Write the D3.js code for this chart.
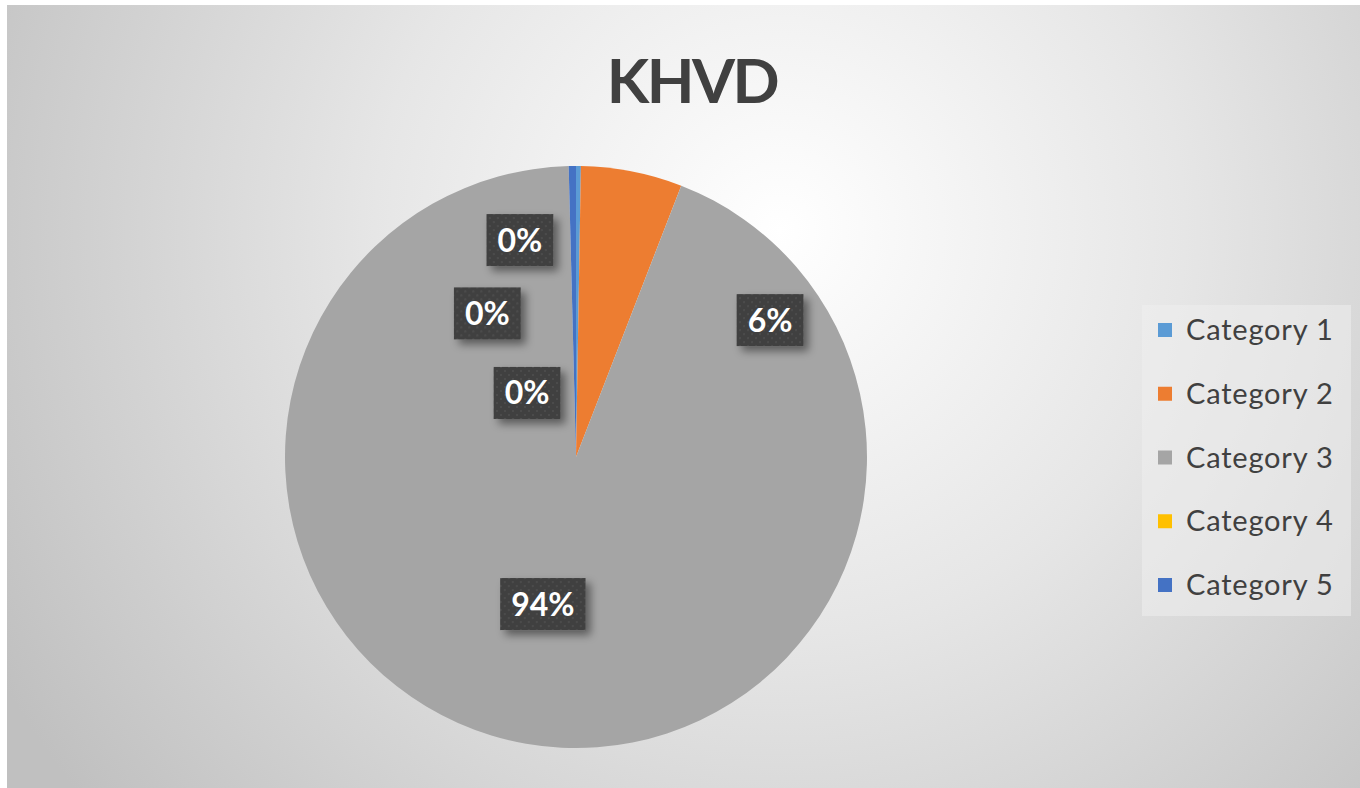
<!DOCTYPE html>
<html><head><meta charset="utf-8">
<script src="https://cdn.jsdelivr.net/npm/d3@7"></script>
<style>html,body{margin:0;padding:0;background:#fff;}svg{display:block;}</style>
</head><body>
<script>
const title = "KHVD";
const categories = ["Category 1","Category 2","Category 3","Category 4","Category 5"];
const values = [2, 42, 700, 0, 3];
const colors = ["#5b9bd5","#ed7d31","#a5a5a5","#ffc000","#4472c4"];
// label placement (angle in degrees clockwise from top, distance as fraction of radius)
const labelAngles = [345.5, 54.8, 192.7, 328.3, 322.6];
const labelDist = [0.77, 0.816, 0.518, 0.58, 0.277];

const W = 1360, H = 788;
const svg = d3.select("body").append("svg").attr("width", W).attr("height", H);
const defs = svg.append("defs");

const bg = defs.append("radialGradient").attr("id","bg")
  .attr("gradientUnits","userSpaceOnUse").attr("cx",780).attr("cy",230).attr("r",900);
bg.append("stop").attr("offset","0%").attr("stop-color","#ffffff");
bg.append("stop").attr("offset","45%").attr("stop-color","#e6e6e6");
bg.append("stop").attr("offset","100%").attr("stop-color","#c0c0c0");

const pat = defs.append("pattern").attr("id","dots").attr("patternUnits","userSpaceOnUse")
  .attr("width",8).attr("height",8);
pat.append("rect").attr("width",8).attr("height",8).attr("fill","#3f3f3f");
pat.append("circle").attr("cx",2).attr("cy",2).attr("r",1.3).attr("fill","#4c4c4c");
pat.append("circle").attr("cx",6).attr("cy",6).attr("r",1.3).attr("fill","#4c4c4c");

const sh = defs.append("filter").attr("id","shadow").attr("x","-30%").attr("y","-30%").attr("width","160%").attr("height","160%");
sh.append("feDropShadow").attr("dx",5).attr("dy",5).attr("stdDeviation",4).attr("flood-color","#000").attr("flood-opacity",0.45);

svg.append("rect").attr("x",7).attr("y",5).attr("width",W-7).attr("height",H-5).attr("fill","url(#bg)");

svg.append("text").attr("x",692).attr("y",103).attr("text-anchor","middle")
  .attr("font-family","Lato, 'Open Sans', sans-serif").attr("font-weight",700)
  .attr("font-size",62).attr("letter-spacing",-2.5).attr("fill","#404040").text(title);

const cx = 576, cy = 457, R = 291;
const pie = d3.pie().sort(null).value(d => d);
const arcs = pie(values);
const arc = d3.arc().innerRadius(0).outerRadius(R);
const g = svg.append("g").attr("transform",`translate(${cx},${cy})`);
g.selectAll("path").data(arcs).enter().append("path")
  .attr("d", arc).attr("fill",(d,i)=>colors[i]);

const total = d3.sum(values);
const fmt = d3.format(".0%");
const lbl = g.selectAll("g.lbl").data(arcs).enter().append("g").attr("class","lbl")
  .attr("transform",(d,i)=>{
    const a = labelAngles[i]*Math.PI/180, r = labelDist[i]*R;
    return `translate(${r*Math.sin(a)},${-r*Math.cos(a)})`;
  });
lbl.each(function(d,i){
  const s = d3.select(this);
  const txt = fmt(Math.round(values[i]/total*100)/100);
  const t = s.append("text").attr("text-anchor","middle").attr("dy","0.36em")
    .attr("font-family","Lato, 'Open Sans', sans-serif").attr("font-weight",700)
    .attr("font-size",32).attr("fill","#ffffff").text(txt);
  const bb = t.node().getBBox();
  s.insert("rect","text").attr("x",bb.x-11).attr("y",-26).attr("width",bb.width+22).attr("height",52)
    .attr("fill","url(#dots)").attr("filter","url(#shadow)");
});

// legend
const lg = svg.append("g");
lg.append("rect").attr("x",1142).attr("y",305).attr("width",209).attr("height",311)
  .attr("fill","#eeeeee").attr("fill-opacity",0.55);
const ly = d3.scalePoint().domain(categories).range([330,585]);
const items = lg.selectAll("g.it").data(categories).enter().append("g")
  .attr("transform",d=>`translate(0,${ly(d)})`);
items.append("rect").attr("x",1158).attr("y",-7).attr("width",14).attr("height",14)
  .attr("fill",(d,i)=>colors[i]);
items.append("text").attr("x",1186).attr("dy","0.35em")
  .attr("font-family","Lato, 'Open Sans', sans-serif").attr("font-size",29)
  .attr("letter-spacing",0.8).attr("fill","#404040").text(d=>d);
</script>
</body></html>
